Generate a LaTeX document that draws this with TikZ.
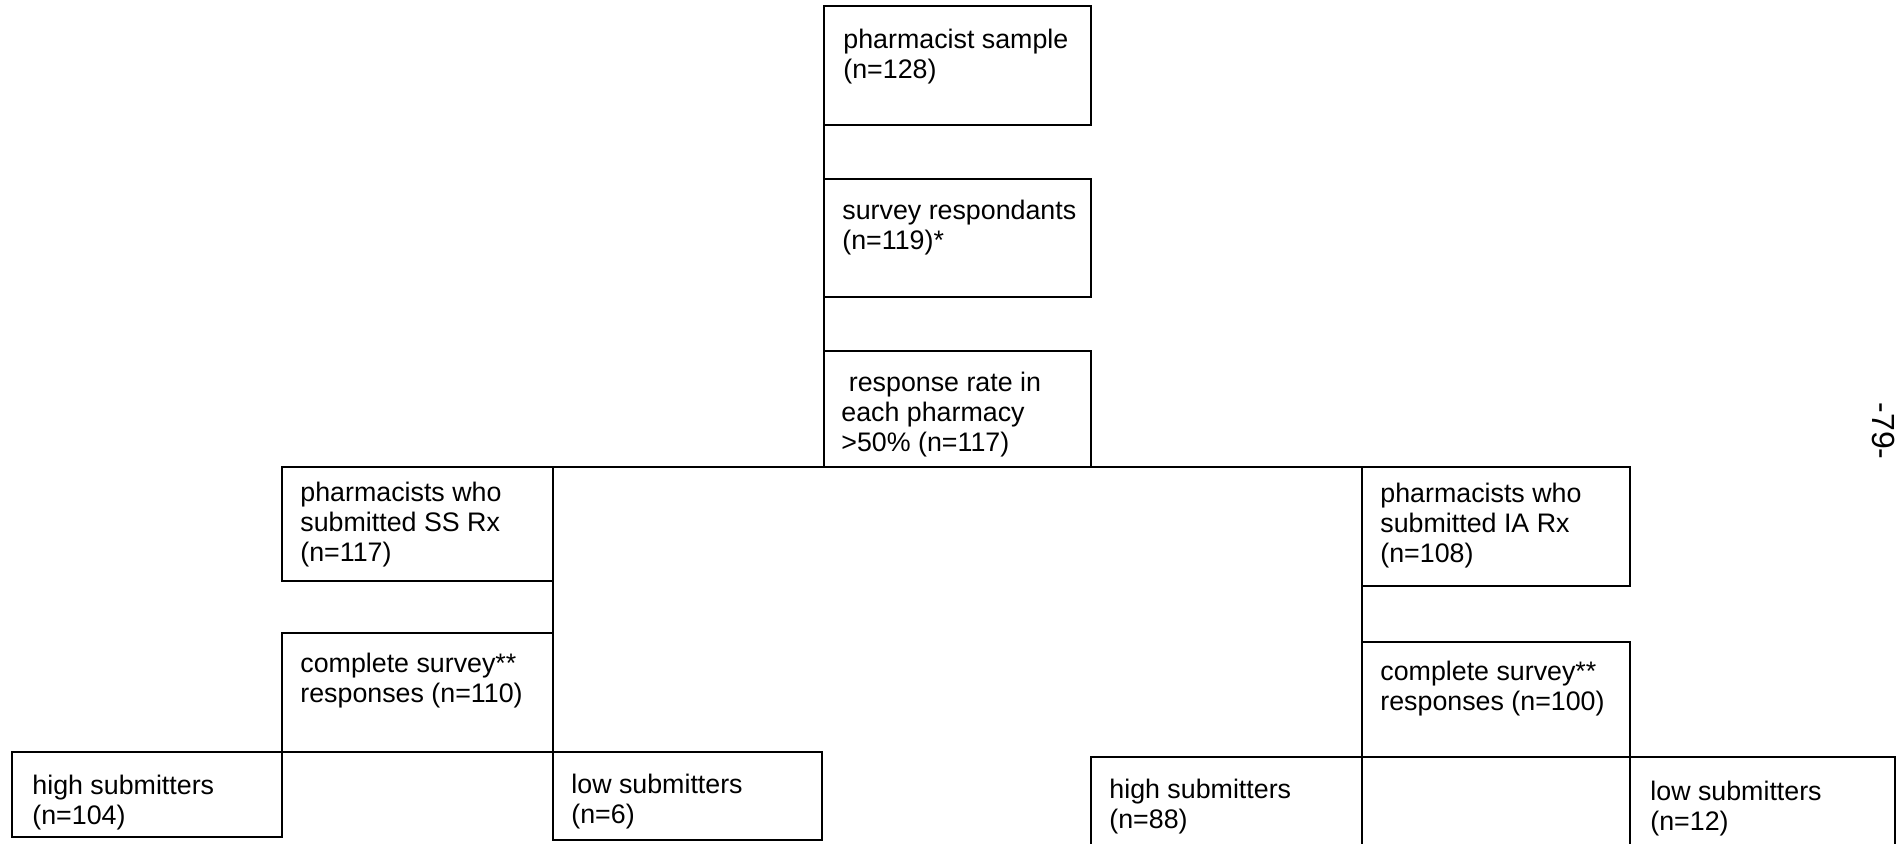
\documentclass[tikz,border=0pt]{standalone}
\usepackage{fontspec}
\setmainfont{Liberation Sans}
\usetikzlibrary{calc}
% invisible strut fixing the height of the first text line
\newcommand\firstlinestrut{\rule{0pt}{10pt}}
\begin{document}
\begin{tikzpicture}[x=0.5pt,y=-0.5pt,
  stagebox/.style={draw, line width=1.25pt, rectangle, inner sep=0pt, outer sep=0pt, anchor=north west},
  boxtext/.style={anchor=north west, inner sep=0pt, align=left,
    font=\fontsize{13.4}{15}\selectfont},
  link/.style={line width=1.25pt}]
\path[use as bounding box, fill=white] (0,0) rectangle (1900,843);

% central column
\node[stagebox, minimum width=133.5pt, minimum height=59.5pt] (b1) at (824,6) {};
\node[stagebox, minimum width=133.5pt, minimum height=59pt] (b2) at (824,179) {};
\node[stagebox, minimum width=133.5pt, minimum height=58pt] (b3) at (824,351) {};

% SS branch
\node[stagebox, minimum width=135.5pt, minimum height=57pt] (ss) at (282,467) {};
\node[stagebox, minimum width=135.5pt, minimum height=59.5pt] (sscs) at (282,633) {};
\node[stagebox, minimum width=135pt, minimum height=42.5pt] (h104) at (12,752) {};
\node[stagebox, minimum width=134.5pt, minimum height=44pt] (l6) at (553,752) {};

% IA branch
\node[stagebox, minimum width=134pt, minimum height=59.5pt] (ia) at (1362,467) {};
\node[stagebox, minimum width=134pt, minimum height=57.5pt] (iacs) at (1362,642) {};
\node[stagebox, minimum width=135.5pt, minimum height=56.5pt] (h88) at (1091,757) {};
\node[stagebox, minimum width=132.5pt, minimum height=56.5pt] (l12) at (1630,757) {};

% box texts
\node[boxtext] (t1) at ($(b1.north west)+(19,22)$) {\firstlinestrut pharmacist sample\\(n=128)};
\node[boxtext] (t2) at ($(b2.north west)+(18,20)$) {\firstlinestrut survey respondants\\(n=119)*};
\node[boxtext] (t3) at ($(b3.north west)+(17,20)$) {\firstlinestrut\hspace*{0.28em}response rate in\\each pharmacy\\>50\% (n=117)};
\node[boxtext] (t4) at ($(ss.north west)+(18,14)$) {\firstlinestrut pharmacists who\\submitted SS Rx\\(n=117)};
\node[boxtext] (t5) at ($(sscs.north west)+(18,19)$) {\firstlinestrut complete survey**\\responses (n=110)};
\node[boxtext] (t6) at ($(h104.north west)+(20,22)$) {\firstlinestrut high submitters\\(n=104)};
\node[boxtext] (t7) at ($(l6.north west)+(18,21)$) {\firstlinestrut low submitters\\(n=6)};
\node[boxtext] (t8) at ($(ia.north west)+(18,15)$) {\firstlinestrut pharmacists who\\submitted IA Rx\\(n=108)};
\node[boxtext] (t9) at ($(iacs.north west)+(18,18)$) {\firstlinestrut complete survey**\\responses (n=100)};
\node[boxtext] (t10) at ($(h88.north west)+(18,21)$) {\firstlinestrut high submitters\\(n=88)};
\node[boxtext] (t11) at ($(l12.north west)+(20,23)$) {\firstlinestrut low submitters\\(n=12)};

% connectors
\draw[link] (b1.south west) -- (b2.north west);
\draw[link] (b2.south west) -- (b3.north west);
\draw[link] (ss.north east) -- (ia.north west);
\draw[link] (ss.south east) -- (sscs.north east);
\draw[link] (ia.south west) -- (iacs.north west);

% page number at the margin
\node[rotate=-90, anchor=base, inner sep=0pt, font=\fontsize{16}{18}\selectfont] (pg) at (1872,431) {-79-};
\end{tikzpicture}
\end{document}
